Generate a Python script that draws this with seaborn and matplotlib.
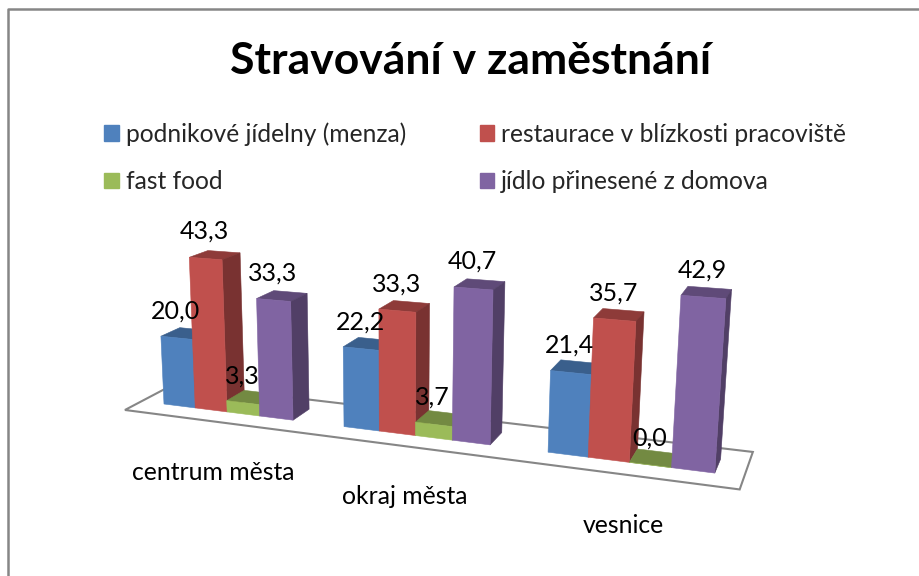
import numpy as np
import pandas as pd
import seaborn as sns
import matplotlib.pyplot as plt
from matplotlib.colors import to_rgb
from matplotlib.lines import Line2D
from matplotlib.patches import Patch, Polygon
from matplotlib.transforms import Transform

poloha = ["centrum města", "okraj města", "vesnice"]
typy = [
    "podnikové jídelny (menza)",
    "fast food",
    "restaurace v blízkosti pracoviště",
    "jídlo přinesené z domova",
]
menza = [20.0, 22.2, 21.4]
restaurace = [43.3, 33.3, 35.7]
fast_food = [3.3, 3.7, 0.0]
z_domova = [33.3, 40.7, 42.9]

poradi = [typy[0], typy[2], typy[1], typy[3]]
barvy = ["#4F81BD", "#C0504D", "#9BBB59", "#8064A2"]

df = pd.DataFrame(
    {
        "poloha": list(range(len(poloha))) * 4,
        "typ": np.repeat(poradi, len(poloha)),
        "podil": menza + restaurace + fast_food + z_domova,
    }
)


# Perspektiva 3D grafu: (kategorie, hodnota, hloubka) -> pixely obrázku
def promitni(x, v, d=0.0):
    x = np.asarray(x, dtype=float) + 0.3645
    v = np.asarray(v, dtype=float)
    w = 1 - 0.0588 * x - 0.000657 * v + 0.0254 * d
    px = 164 + 159.8 * x - 0.26 * v + 23.2 * d
    py = 404 - 2.5 * x - 3.61 * v - 0.127 * d
    return px / w, py / w


class Perspektiva(Transform):
    input_dims = 2
    output_dims = 2

    def transform_non_affine(self, values):
        px, py = promitni(values[:, 0], values[:, 1])
        return np.column_stack([px, py])


def stena(ax, body, barva, zorder):
    xy = np.array([promitni(*b) for b in body])
    ax.add_patch(Polygon(xy, facecolor=barva, edgecolor=barva, lw=0.4, zorder=zorder))


def ztmav(barva, k):
    return tuple(c * k for c in to_rgb(barva))


sns.set_theme(style="white")
plt.rcParams["font.family"] = ["Lato", "DejaVu Sans"]

fig = plt.figure(figsize=(9.2, 5.76), dpi=100)
ax = fig.add_axes([0, 0, 1, 1])

sns.barplot(
    data=df,
    x="poloha",
    y="podil",
    hue="typ",
    hue_order=poradi,
    palette=barvy,
    width=0.729,
    saturation=1,
    legend=False,
    ax=ax,
)
ax.set_xlim(0, 920)
ax.set_ylim(576, 0)
ax.axis("off")

sloupce = sorted(ax.patches, key=lambda p: p.get_x())

# Podlaha grafu
x0, x1 = -0.4975, 2.4855
d0, d1 = -0.84, 1.78
podlaha = np.array(
    [promitni(x0, 0, d0), promitni(x1, 0, d0), promitni(x1, 0, d1), promitni(x0, 0, d1)]
)
ax.add_patch(Polygon(podlaha, facecolor="white", edgecolor="#868686", lw=1.5, zorder=1))

# Sloupce zleva doprava: horní a boční stěna, pak přední strana ze seaborn
tr = Perspektiva() + ax.transData
for k, bar in enumerate(sloupce):
    a, b = bar.get_x(), bar.get_x() + bar.get_width()
    v = bar.get_height()
    barva = bar.get_facecolor()[:3]
    z = 2 + k
    stena(ax, [(a, v, 0), (b, v, 0), (b, v, 1), (a, v, 1)], ztmav(barva, 0.74), z)
    stena(ax, [(b, 0, 0), (b, v, 0), (b, v, 1), (b, 0, 1)], ztmav(barva, 0.63), z)
    bar.set_transform(tr)
    bar.set_edgecolor(barva)
    bar.set_linewidth(0.4)
    bar.set_zorder(z + 0.5)
    bar.set_clip_on(False)

    px, py = promitni((a + b) / 2, v)
    ax.text(
        px - 1,
        py - 27,
        f"{v:.1f}".replace(".", ","),
        ha="center",
        va="center",
        fontsize=18,
        color="black",
        zorder=50,
    )

# Popisky kategorií pod podlahou
for i, nazev in enumerate(poloha):
    px, py = promitni(i, 0, d0)
    ax.text(px + 1, py + 51, nazev, ha="center", va="center", fontsize=17.8, color="black", zorder=50)

ax.text(471, 61, "Stravování v zaměstnání", ha="center", va="center", fontsize=32, fontweight="bold", color="black")

# Rámeček grafu je vidět jen nahoře a vlevo
ax.add_line(Line2D([8, 8, 920], [576, 9, 9], color="#868686", lw=1.8, zorder=60))

handles = [Patch(color=c) for c in [barvy[0], barvy[2], barvy[1], barvy[3]]]
fig.legend(
    handles,
    typy,
    ncol=2,
    loc="upper left",
    bbox_to_anchor=(104 / 920, 1 - 122 / 576),
    frameon=False,
    fontsize=17.7,
    handlelength=0.6,
    handleheight=0.6,
    handletextpad=0.28,
    labelspacing=1.0,
    columnspacing=3.0,
    borderaxespad=0,
    borderpad=0,
)

plt.savefig("out.png", dpi=100)
